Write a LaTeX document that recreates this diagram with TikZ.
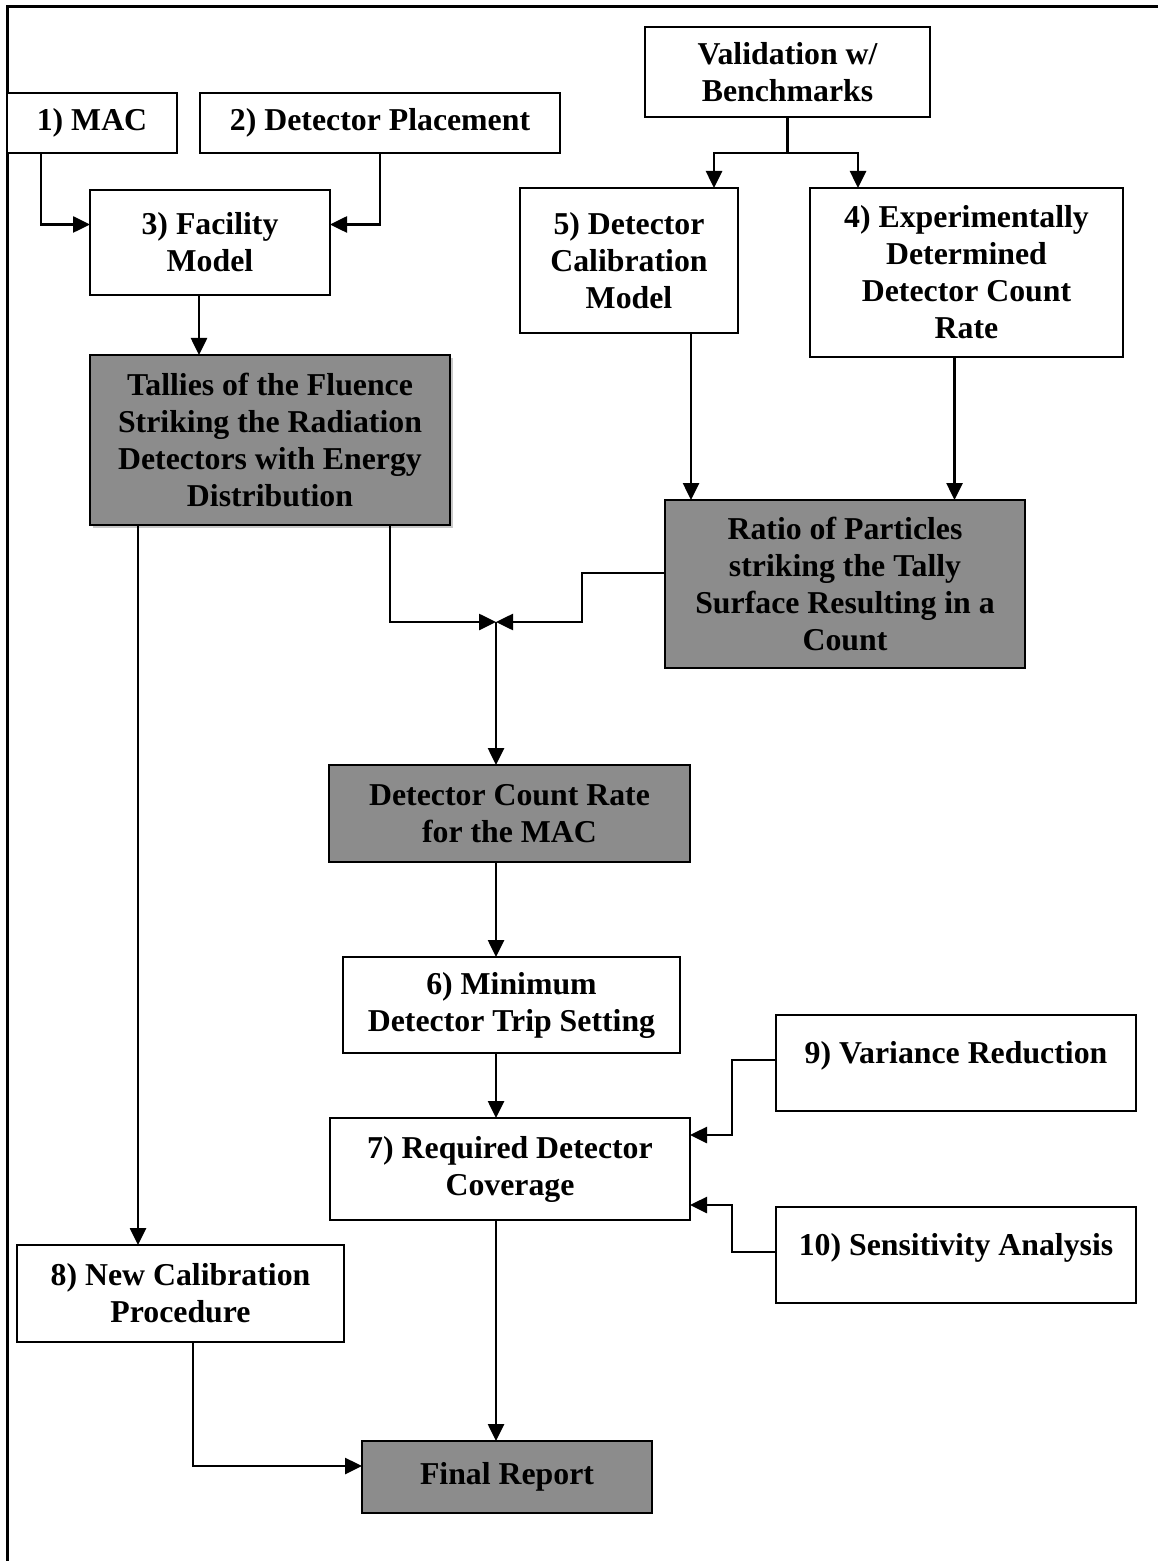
\documentclass[tikz,border=0pt]{standalone}
\usepackage{fontspec}
\setmainfont{Liberation Serif}
\usetikzlibrary{arrows.meta,shadows}
\definecolor{boxgray}{RGB}{140,140,140}
\definecolor{shadowgray}{RGB}{200,200,200}
\newcommand\mybox[7]{\node[#6, minimum width={(#4-#2)*0.5pt}, minimum height={(#5-#3)*0.5pt}] (#1) at ({(#2+#4)/2},{(#3+#5)/2}) {#7};}
\tikzset{
  base/.style={draw=black, line width=1pt, inner sep=0pt, outer sep=0pt, align=center,
    font=\fontsize{15.9}{18.5}\selectfont\bfseries},
  wbox/.style={base, fill=white},
  gbox/.style={base, fill=boxgray},
  arr/.style={line width=1.3pt, -{Triangle[length=8.5pt,width=8pt]}},
  plain/.style={line width=1.3pt},
  frame/.style={line width=1.5pt}
}
\begin{document}
\begin{tikzpicture}[x=0.5pt,y=-0.5pt]
\useasboundingbox (0,0) rectangle (1158,1561);
\draw[frame] (7,1561) -- (7,7) -- (1158,7);

\mybox{mac}{7}{93}{177}{153}{wbox}{1) MAC}
\mybox{det}{200}{93}{560}{153}{wbox}{2) Detector Placement}
\mybox{fac}{90}{190}{330}{295}{wbox}{3) Facility\\Model}
\mybox{tal}{90}{355}{450}{525}{gbox, drop shadow={shadow xshift=1.5pt, shadow yshift=-1.5pt, fill=shadowgray, opacity=1}}{Tallies of the Fluence\\Striking the Radiation\\Detectors with Energy\\Distribution}
\mybox{val}{645}{27}{930}{117}{wbox}{Validation w/\\Benchmarks}
\mybox{cal}{520}{188}{738}{333}{wbox}{5) Detector\\Calibration\\Model}
\mybox{exp}{810}{188}{1123}{357}{wbox}{4) Experimentally\\Determined\\Detector Count\\Rate}
\mybox{rat}{665}{500}{1025}{668}{gbox}{Ratio of Particles\\striking the Tally\\Surface Resulting in a\\Count}
\mybox{dcr}{329}{765}{690}{862}{gbox}{Detector Count Rate\\for the MAC}
\mybox{min}{343}{957}{680}{1053}{wbox}{6) Minimum\\Detector Trip Setting}
\mybox{req}{330}{1118}{690}{1220}{wbox}{7) Required Detector\\Coverage}
\mybox{var}{776}{1015}{1136}{1111}{wbox, text depth=11pt}{9) Variance Reduction}
\mybox{sen}{776}{1207}{1136}{1303}{wbox, text depth=11pt}{10) Sensitivity Analysis}
\mybox{new}{17}{1245}{344}{1342}{wbox}{8) New Calibration\\Procedure}
\mybox{fin}{362}{1441}{652}{1513}{gbox}{Final Report}

\coordinate (split) at (787.5,153);
\coordinate (merge) at (496,622);
\coordinate (rb) at (582,622);
\coordinate (vb) at (732,1135);
\coordinate (sb) at (732,1205);

\draw[arr] ([xshift=17pt]mac.south west) |- ([yshift=9pt]fac.west);
\draw[arr] (det.south) |- ([yshift=9pt]fac.east);
\draw[arr] ([xshift=-5.5pt]fac.south) -- ([xshift=-5.5pt]fac.south |- tal.north);

\draw[plain] (val.south) -- (split);
\draw[arr] (split) -| ([xshift=-12pt]cal.north east);
\draw[arr] (split) -| ([xshift=24pt]exp.north west);

\draw[arr] ([xshift=-23.5pt]cal.south east) -- ([xshift=-23.5pt]cal.south east |- rat.north);
\draw[arr] ([xshift=-6pt]exp.south) -- ([xshift=-6pt]exp.south |- rat.north);

\draw[arr] ([xshift=-30pt]tal.south east) |- (merge);
\draw[arr] ([yshift=5.5pt]rat.west) -| (rb) -- (merge);
\draw[arr] (merge) -- (merge |- dcr.north);

\draw[arr] (merge |- dcr.south) -- (merge |- min.north);
\draw[arr] (merge |- min.south) -- (merge |- req.north);
\draw[arr] ([yshift=1.5pt]var.west) -| (vb) -- ([yshift=17pt]req.east);
\draw[arr] ([yshift=1.5pt]sen.west) -| (sb) -- ([yshift=-18pt]req.east);
\draw[arr] (merge |- req.south) -- (merge |- fin.north);

\draw[arr] ([xshift=24pt]tal.south west) -- ([xshift=24pt]tal.south west |- new.north);
\draw[arr] ([xshift=88pt]new.south west) |- ([yshift=5.5pt]fin.west);
\end{tikzpicture}
\end{document}
